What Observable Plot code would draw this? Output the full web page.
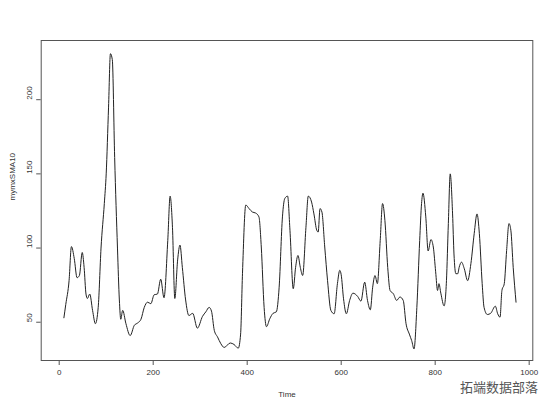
<!DOCTYPE html>
<html>
<head>
<meta charset="utf-8">
<script src="https://cdn.jsdelivr.net/npm/d3@7"></script>
<script src="https://cdn.jsdelivr.net/npm/@observablehq/plot@0.6"></script>
<style>
  html, body { margin: 0; padding: 0; background: #fff; }
  #wrap { position: relative; width: 555px; height: 412px; }
  #wm { position: absolute; left: 460px; top: 380px; font-family: "Noto Sans CJK SC", sans-serif;
        font-size: 13px; line-height: 14px; color: #555; white-space: nowrap;
        text-shadow: 0 0 1px #fff, 0 0 1px #fff; }
</style>
</head>
<body>
<div id="wrap"></div>
<script>
const time = [10,14,21,26,32,38,43,49,53,57,60,65,71,77,83,89,96,100,105,109,113,118,124,128,131,135,142,151,160,167,174,181,188,195,202,209,216,223,231,236,241,246,252,257,262,269,276,284,294,305,312,319,324,330,337,344,351,364,372,381,386,390,397,404,411,418,425,430,436,441,448,455,462,468,475,480,486,491,498,503,508,513,518,525,530,537,542,548,551,555,559,565,571,578,585,592,597,600,605,611,618,625,635,642,650,656,662,667,672,677,683,688,693,699,704,711,718,725,732,738,745,750,755,761,767,771,774,780,785,791,796,801,805,808,812,819,824,828,832,837,840,844,848,851,856,862,869,876,883,889,894,900,904,911,918,928,933,938,942,947,952,957,961,966,972];
const mymxSMA10 = [53,62,78,101,93,80,81.5,97,87,69,66,69,58,49,60,100,130,150,195,231,227,161,100,65,52,58,49,41,48,49.5,52,60,63.5,62.5,68.5,69,79,66.5,105,135,114,66,92,102,87,65,54.5,56,46,54,57,60,57.5,44.5,40,35.5,33,36,35,32.5,42,83,129,126.6,124.3,123.6,121,100.7,60,47,52.3,56,57,73.6,121,133.4,135,112,72.6,87,95,87,81.5,114,135,131,123,112,110.8,126.6,124.3,100.7,78,58,55.7,76,85,82,65.8,55.7,64.7,69.6,67.4,64.2,77,64.7,58.4,73.6,81.5,76,105,130,118.7,87,71.4,69.2,64.7,67,64.7,49,42,37.6,32,60,105,130,137,121,98,105.7,100.7,84,71.4,76,69.6,61,78,116.5,150,123,96,82.7,82.7,87,90.5,86,78,89.5,109.7,123,109.7,76,60,55.2,56,60.8,55.7,53.4,71.4,76,98.4,116.5,112,87,63.5];
const xTicks = [0, 200, 400, 600, 800, 1000];
const yTicks = [50, 100, 150, 200];
const xLabel = "Time";
const yLabel = "mymxSMA10";

const data = time.map((t, i) => ({t, v: mymxSMA10[i]}));

const chart = Plot.plot({
  width: 555,
  height: 412,
  marginLeft: 40.7,
  marginRight: 22.7,
  marginTop: 40,
  marginBottom: 52,
  style: { fontFamily: "'Liberation Sans', Arial, sans-serif", fontSize: "8px", background: "#fff", color: "#333" },
  x: { domain: [-38.3, 1007.7] },
  y: { domain: [24.2, 239.9] },
  marks: [
    Plot.frame({ stroke: "#555", strokeWidth: 1 }),
    Plot.axisX({ ticks: xTicks, tickSize: 5, tickFormat: () => "", stroke: "#555", label: null }),
    Plot.axisY({ ticks: yTicks, tickSize: 4.5, tickFormat: () => "", stroke: "#555", label: null }),
    Plot.text(xTicks, { x: d => d, frameAnchor: "bottom", dy: 14.5, text: d => String(d), fill: "#333" }),
    Plot.text(yTicks, { y: d => d, frameAnchor: "left", dx: -11.5, rotate: -90, text: d => String(d), fill: "#333" }),
    Plot.text([xLabel], { frameAnchor: "bottom", dy: 36, text: d => d, fill: "#333" }),
    Plot.text([yLabel], { frameAnchor: "left", dx: -29, rotate: -90, text: d => d, fill: "#333" }),
    Plot.line(data, { x: "t", y: "v", stroke: "#222", strokeWidth: 1, curve: "monotone-x" })
  ]
});

const wrap = document.getElementById("wrap");
wrap.appendChild(chart);
const wm = document.createElement("div");
wm.id = "wm";
wm.textContent = "拓端数据部落";
wrap.appendChild(wm);
</script>
</body>
</html>
